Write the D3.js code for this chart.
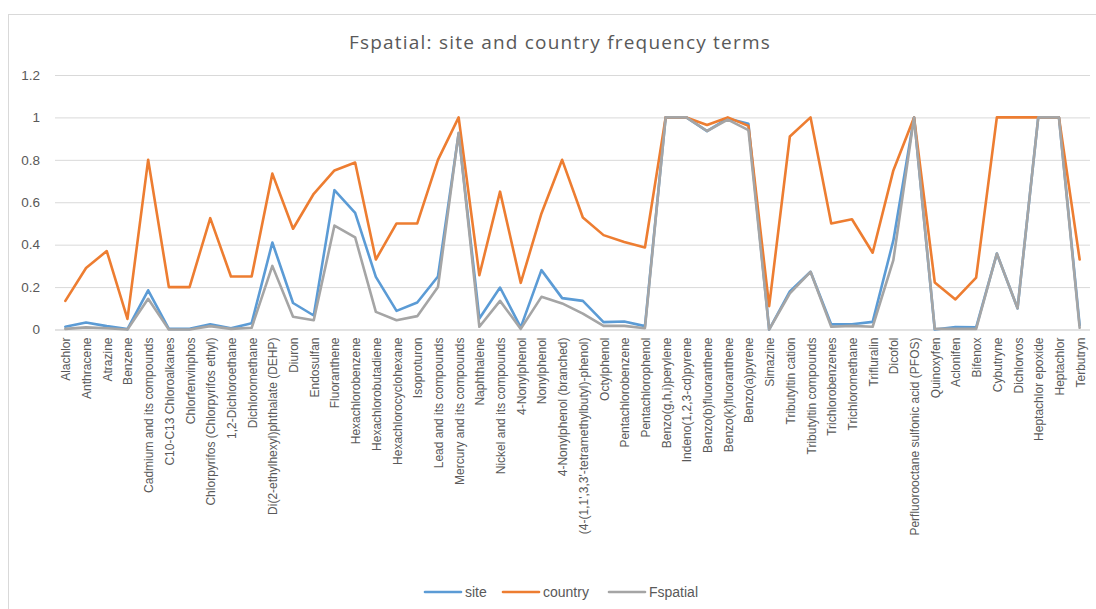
<!DOCTYPE html>
<html>
<head>
<meta charset="utf-8">
<script src="https://cdn.jsdelivr.net/npm/d3@7"></script>
<style>
  html, body { margin: 0; padding: 0; background: #fff; }
  svg { display: block; }
</style>
</head>
<body>
<svg id="chart" width="1096" height="609"></svg>
<script>
// Priority substances, in reporting order
const substances = [
  "Alachlor", "Anthracene", "Atrazine", "Benzene", "Cadmium and its compounds",
  "C10-C13 Chloroalkanes", "Chlorfenvinphos", "Chlorpyrifos (Chlorpyrifos ethyl)",
  "1,2-Dichloroethane", "Dichloromethane", "Di(2-ethylhexyl)phthalate (DEHP)",
  "Diuron", "Endosulfan", "Fluoranthene", "Hexachlorobenzene", "Hexachlorobutadiene",
  "Hexachlorocyclohexane", "Isoproturon", "Lead and its compounds",
  "Mercury and its compounds", "Naphthalene", "Nickel and its compounds",
  "4-Nonylphenol", "Nonylphenol", "4-Nonylphenol (branched)",
  "(4-(1,1',3,3'-tetramethylbutyl)-phenol)", "Octylphenol", "Pentachlorobenzene",
  "Pentachlorophenol", "Benzo(g,h,i)perylene", "Indeno(1,2,3-cd)pyrene",
  "Benzo(b)fluoranthene", "Benzo(k)fluoranthene", "Benzo(a)pyrene", "Simazine",
  "Tributyltin cation", "Tributyltin compounds", "Trichlorobenzenes",
  "Trichloromethane", "Trifluralin", "Dicofol",
  "Perfluorooctane sulfonic acid (PFOS)", "Quinoxyfen", "Aclonifen", "Bifenox",
  "Cybutryne", "Dichlorvos", "Heptachlor epoxide", "Heptachlor", "Terbutryn"
];

// Site frequency term
const site = [
  0.013, 0.033, 0.016, 0.002, 0.185, 0.003, 0.003, 0.025, 0.006, 0.03,
  0.41, 0.125, 0.066, 0.657, 0.55, 0.248, 0.088, 0.127, 0.25, 0.925,
  0.052, 0.198, 0.01, 0.28, 0.148, 0.135, 0.035, 0.038, 0.016, 1.0,
  1.0, 0.935, 0.995, 0.97, 0.0, 0.18, 0.272, 0.024, 0.025, 0.036,
  0.42, 1.0, 0.0, 0.012, 0.01, 0.358, 0.10, 1.0, 1.0, 0.02
];

// Country frequency term
const country = [
  0.135, 0.29, 0.37, 0.05, 0.80, 0.20, 0.20, 0.525, 0.25, 0.25,
  0.735, 0.475, 0.64, 0.75, 0.787, 0.33, 0.50, 0.50, 0.80, 1.0,
  0.256, 0.65, 0.22, 0.547, 0.80, 0.528, 0.445, 0.413, 0.387, 1.0,
  1.0, 0.964, 1.0, 0.96, 0.11, 0.91, 1.0, 0.50, 0.52, 0.362,
  0.75, 1.0, 0.222, 0.142, 0.245, 1.0, 1.0, 1.0, 1.0, 0.33
];

// Combined spatial frequency
const fspatial = [
  0.003, 0.01, 0.006, 0.0, 0.145, 0.0, 0.0, 0.016, 0.003, 0.008,
  0.30, 0.06, 0.044, 0.49, 0.434, 0.083, 0.044, 0.063, 0.20, 0.928,
  0.013, 0.135, 0.003, 0.154, 0.123, 0.075, 0.017, 0.017, 0.006, 1.0,
  1.0, 0.936, 0.99, 0.94, 0.0, 0.17, 0.272, 0.013, 0.017, 0.013,
  0.327, 1.0, 0.003, 0.003, 0.003, 0.358, 0.10, 1.0, 1.0, 0.008
];

const yTicks = [0, 0.2, 0.4, 0.6, 0.8, 1, 1.2];

const seriesList = [
  { name: "site", values: site, color: "#5B9BD5" },
  { name: "country", values: country, color: "#ED7D31" },
  { name: "Fspatial", values: fspatial, color: "#A5A5A5" }
];

const svg = d3.select("#chart");
const textColor = "#595959";
const gridColor = "#D9D9D9";
const fontFamily = "'Liberation Sans', Arial, sans-serif";

const plot = { left: 55, right: 1090, top: 75, bottom: 329.5 };

// chart frame
svg.append("rect")
  .attr("x", 8.5).attr("y", 14.5)
  .attr("width", 1100).attr("height", 620)
  .attr("fill", "#fff")
  .attr("stroke", gridColor).attr("stroke-width", 1);

// title
svg.append("text")
  .attr("x", 560).attr("y", 49)
  .attr("text-anchor", "middle")
  .attr("font-family", "'Open Sans', sans-serif")
  .attr("font-size", 19)
  .attr("letter-spacing", 1.2)
  .attr("fill", textColor)
  .text("Fspatial: site and country frequency terms");

const x = d3.scalePoint()
  .domain(substances)
  .range([plot.left, plot.right])
  .padding(0.5);

const y = d3.scaleLinear()
  .domain([0, 1.2])
  .range([plot.bottom, plot.top]);

// horizontal gridlines and value labels
const yAxis = d3.axisLeft(y)
  .tickValues(yTicks)
  .tickSize(-(plot.right - plot.left))
  .tickPadding(15)
  .tickFormat(d => d3.format("")(+d.toFixed(1)));

const yG = svg.append("g")
  .attr("transform", `translate(${plot.left},0)`)
  .call(yAxis);
yG.select(".domain").remove();
yG.selectAll(".tick line").attr("stroke", gridColor).attr("stroke-width", 1);
yG.selectAll(".tick text")
  .attr("fill", textColor)
  .attr("font-family", fontFamily)
  .attr("font-size", 13.5);

// category axis with rotated labels
const xAxis = d3.axisBottom(x).tickSize(0).tickPadding(0);
const xG = svg.append("g")
  .attr("transform", `translate(0,${plot.bottom})`)
  .call(xAxis);
xG.select(".domain")
  .attr("d", `M${plot.left},0.5H${plot.right}`)
  .attr("stroke", gridColor);
xG.selectAll(".tick text")
  .attr("fill", textColor)
  .attr("font-family", fontFamily)
  .attr("font-size", 12)
  .attr("text-anchor", "end")
  .attr("dy", null)
  .attr("y", 0)
  .attr("transform", "translate(4.5,8) rotate(-90)");

// series lines
const line = d3.line()
  .x((d, i) => x(substances[i]))
  .y(d => y(d));

svg.append("g")
  .selectAll("path")
  .data(seriesList)
  .join("path")
  .attr("d", s => line(s.values))
  .attr("fill", "none")
  .attr("stroke", s => s.color)
  .attr("stroke-width", 2.6)
  .attr("stroke-linejoin", "round")
  .attr("stroke-linecap", "round");

// legend
const legendItems = [
  { s: seriesList[0], x0: 425 },
  { s: seriesList[1], x0: 503 },
  { s: seriesList[2], x0: 609 }
];
const lg = svg.append("g");
legendItems.forEach(it => {
  lg.append("line")
    .attr("x1", it.x0).attr("x2", it.x0 + 36)
    .attr("y1", 592).attr("y2", 592)
    .attr("stroke", it.s.color).attr("stroke-width", 2.6)
    .attr("stroke-linecap", "round");
  lg.append("text")
    .attr("x", it.x0 + 40).attr("y", 597)
    .attr("font-family", fontFamily)
    .attr("font-size", 14)
    .attr("fill", textColor)
    .text(it.s.name);
});
</script>
</body>
</html>
